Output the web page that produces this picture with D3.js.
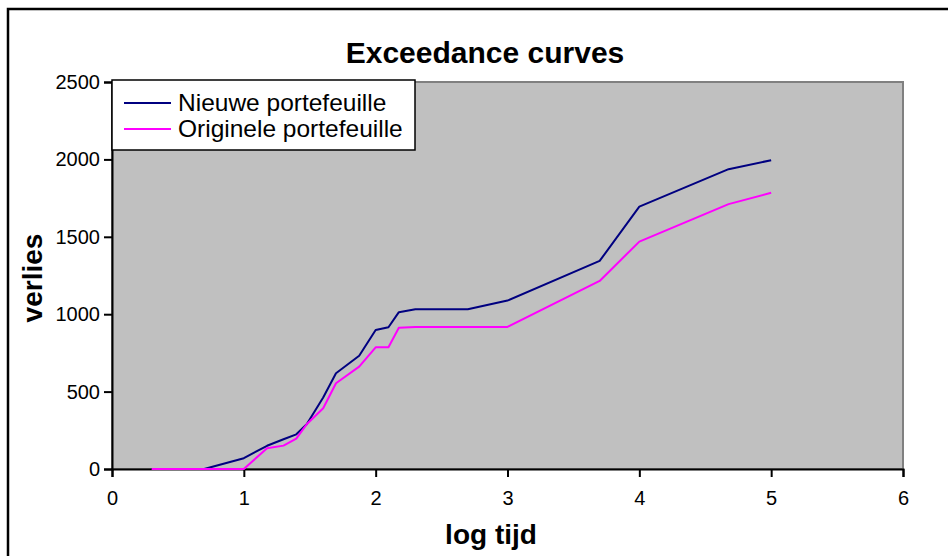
<!DOCTYPE html>
<html>
<head>
<meta charset="utf-8">
<script src="https://cdn.jsdelivr.net/npm/d3@7"></script>
<style>
  body { margin: 0; background: #fff; }
  text { font-family: "Liberation Sans", Arial, sans-serif; fill: #000; }
</style>
</head>
<body>
<svg width="948" height="556"></svg>
<script>
// log van tijd (x) en verlies per portefeuille
var logTijd   = [0.301, 0.699, 1.0, 1.176, 1.301, 1.398, 1.477, 1.602, 1.699, 1.875, 2.0, 2.097, 2.176, 2.301, 2.398, 2.699, 3.0, 3.699, 4.0, 4.677, 5.0];
var nieuwe    = [0, 0, 70, 150, 192, 224, 289, 462, 619, 732, 898, 916, 1013, 1032, 1032, 1032, 1088, 1344, 1695, 1937, 1995];
var originele = [0, 0, 0, 134, 151, 196, 289, 392, 554, 661, 786, 786, 913, 918, 918, 918, 918, 1215, 1469, 1711, 1784];
var seriesNames = ["Nieuwe portefeuille", "Originele portefeuille"];
var xTicks = [0, 1, 2, 3, 4, 5, 6];
var yTicks = [0, 500, 1000, 1500, 2000, 2500];

var svg = d3.select("svg");

// outer chart frame (runs off the canvas right/bottom)
svg.append("rect")
    .attr("x", 8).attr("y", 9)
    .attr("width", 980).attr("height", 600)
    .attr("fill", "#fff")
    .attr("stroke", "#000")
    .attr("stroke-width", 2.5);

var plotL = 112, plotR = 903, plotT = 82, plotB = 469;

var x = d3.scaleLinear().domain([0, 6]).range([plotL, plotR]);
var y = d3.scaleLinear().domain([0, 2500]).range([plotB, plotT]);

// plot area
svg.append("rect")
    .attr("x", plotL).attr("y", plotT)
    .attr("width", plotR - plotL).attr("height", plotB - plotT)
    .attr("fill", "#c0c0c0")
    .attr("stroke", "#808080")
    .attr("stroke-width", 2);

// axes
var xAxis = svg.append("g")
    .attr("transform", "translate(0," + plotB + ")")
    .call(d3.axisBottom(x).tickValues(xTicks).tickSize(8).tickPadding(14).tickFormat(d3.format("d")));
var yAxis = svg.append("g")
    .attr("transform", "translate(" + plotL + ",0)")
    .call(d3.axisLeft(y).tickValues(yTicks).tickSize(8).tickPadding(4).tickFormat(d3.format("d")));

[xAxis, yAxis].forEach(function(g){
    g.attr("font-size", null).attr("font-family", null);
    g.select(".domain").attr("stroke", "#000").attr("stroke-width", 2);
    g.selectAll(".tick line").attr("stroke", "#000").attr("stroke-width", 2);
    g.selectAll(".tick text")
        .style("font-size", "20px")
        .attr("fill", "#000");
});

// lines
var rows = logTijd.map(function(t, i){ return {t: t, a: nieuwe[i], b: originele[i]}; });
var colors = ["#000080", "#ff00ff"];

function drawLine(key, color){
    var line = d3.line()
        .x(function(d){ return x(d.t); })
        .y(function(d){ return y(d[key]); });
    svg.append("path")
        .datum(rows)
        .attr("d", line)
        .attr("fill", "none")
        .attr("stroke", color)
        .attr("stroke-width", 2)
        .attr("stroke-linejoin", "round");
}
drawLine("a", colors[0]);
drawLine("b", colors[1]);

// legend
var legend = svg.append("g");
legend.append("rect")
    .attr("x", 112).attr("y", 80)
    .attr("width", 303).attr("height", 70)
    .attr("fill", "#fff")
    .attr("stroke", "#000")
    .attr("stroke-width", 1.5);
seriesNames.forEach(function(name, i){
    var ly = 103 + i * 26;
    legend.append("line")
        .attr("x1", 124).attr("x2", 171)
        .attr("y1", ly).attr("y2", ly)
        .attr("stroke", colors[i])
        .attr("stroke-width", 2);
    legend.append("text")
        .attr("x", 178).attr("y", ly + 8)
        .style("font-size", "24.5px")
        .text(name);
});

// titles
svg.append("text")
    .attr("x", 485).attr("y", 63)
    .attr("text-anchor", "middle")
    .style("font-size", "30px")
    .style("font-weight", "bold")
    .text("Exceedance curves");

svg.append("text")
    .attr("x", 491).attr("y", 544)
    .attr("text-anchor", "middle")
    .style("font-size", "28px")
    .style("font-weight", "bold")
    .text("log tijd");

svg.append("text")
    .attr("transform", "translate(42,278) rotate(-90)")
    .attr("text-anchor", "middle")
    .style("font-size", "28px")
    .style("font-weight", "bold")
    .text("verlies");
</script>
</body>
</html>
